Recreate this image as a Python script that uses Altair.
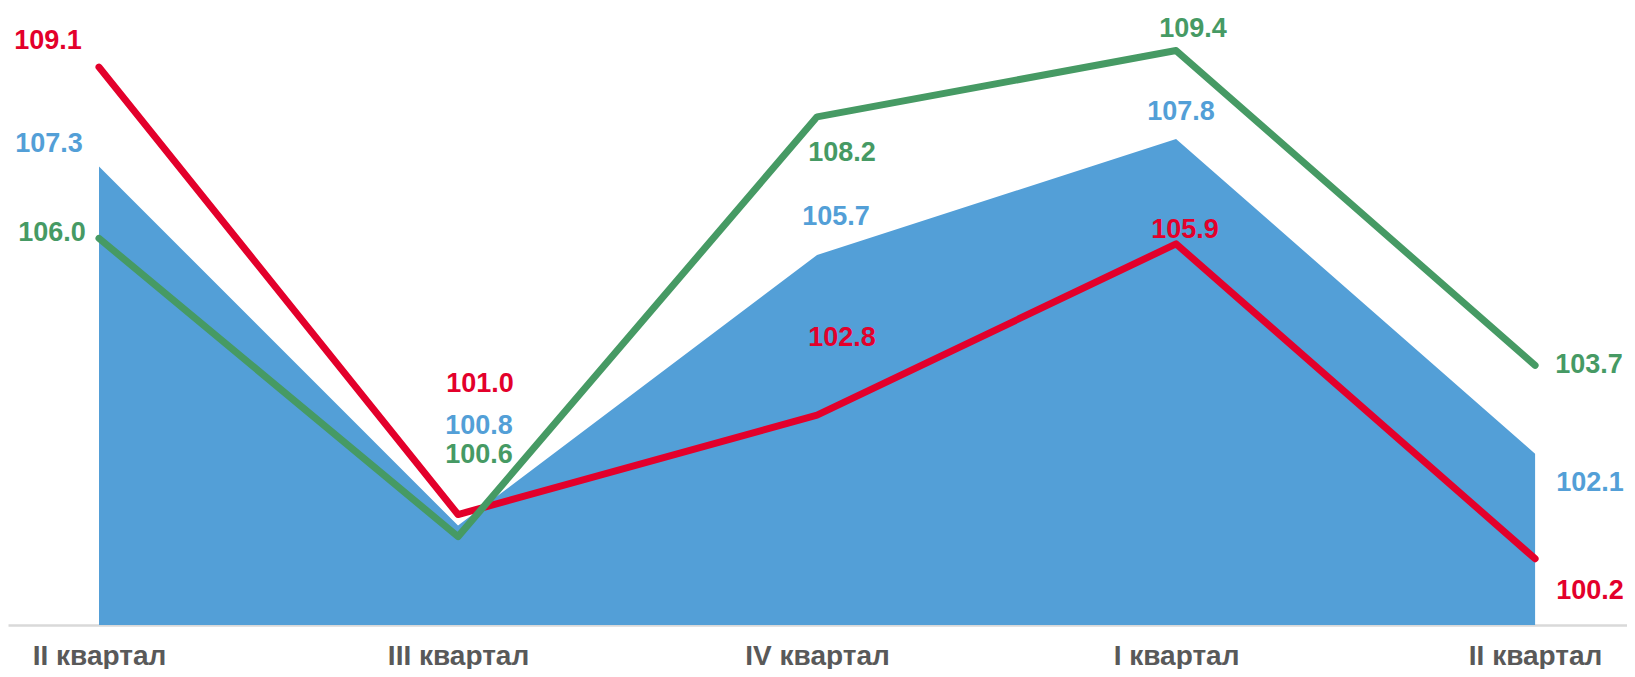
import altair as alt
import pandas as pd

quarters = ["II квартал", "III квартал", "IV квартал", "I квартал", "II квартал"]
blue_vals = [107.3, 100.8, 105.7, 107.8, 102.1]
red_vals = [109.1, 101.0, 102.8, 105.9, 100.2]
green_vals = [106.0, 100.6, 108.2, 109.4, 103.7]

# label placement (pixel offsets from each point), layout only
blue_off = [(-50, -23), (21, -100), (19, -38), (5, -27), (55, 29)]
red_off = [(-51, -26), (22, -131), (25, -77), (9, -14), (55, 32)]
green_off = [(-47, -5), (21, -82), (25, 36), (17, -22), (54, 0)]

BLUE = "#539FD7"
RED = "#E3002B"
GREEN = "#469A64"
FONT = "Liberation Sans, Arial, sans-serif"

W, H = 1619, 617
XDOM = [-0.2535, 4.256]
YDOM = [99, 110.17]
PX_X = W / (XDOM[1] - XDOM[0])
PX_Y = H / (YDOM[1] - YDOM[0])

rows = []
for name, vals, offs in [("blue", blue_vals, blue_off), ("red", red_vals, red_off), ("green", green_vals, green_off)]:
    for i, (v, (dx, dy)) in enumerate(zip(vals, offs)):
        rows.append({"series": name, "i": i, "value": v, "label": f"{v:.1f}", "dx": dx, "dy": dy})
df = pd.DataFrame(rows)

label_expr = "[" + ",".join(f"'{q}'" for q in quarters) + "][datum.value]"

xscale = alt.Scale(domain=XDOM, nice=False, zero=False)
yscale = alt.Scale(domain=YDOM, nice=False, zero=False)
xaxis = alt.Axis(values=[0, 1, 2, 3, 4], labelExpr=label_expr, title=None,
                 grid=False, ticks=False, tickSize=0, labelFont=FONT,
                 labelFontSize=28, labelFontWeight="bold", labelColor="#595959",
                 labelPadding=17, domainColor="#D9D9D9", domainWidth=2.5,
                 labelFlush=False, labelOverlap=False)

x = alt.X("i:Q", scale=xscale, axis=xaxis)
y = alt.Y("value:Q", scale=yscale, axis=None)

base = alt.Chart(df)

area = base.transform_filter(alt.datum.series == "blue").mark_area(
    color=BLUE, opacity=1).encode(x=x, y=y, y2=alt.datum(99))

red_line = base.transform_filter(alt.datum.series == "red").mark_line(
    color=RED, strokeWidth=7, strokeCap="round", strokeJoin="round").encode(x=x, y=y)

green_line = base.transform_filter(alt.datum.series == "green").mark_line(
    color=GREEN, strokeWidth=7, strokeCap="round", strokeJoin="round").encode(x=x, y=y)

labels = base.transform_calculate(
    lx=f"datum.i + datum.dx / {PX_X}",
    ly=f"datum.value - datum.dy / {PX_Y}",
).mark_text(font=FONT, fontSize=27, fontWeight="bold",
            align="center", baseline="middle").encode(
    x=alt.X("lx:Q", scale=xscale, axis=xaxis),
    y=alt.Y("ly:Q", scale=yscale, axis=None),
    text="label:N",
    color=alt.Color("series:N", scale=alt.Scale(domain=["blue", "red", "green"],
                                                 range=[BLUE, RED, GREEN]), legend=None),
)

chart = alt.layer(area, red_line, green_line, labels).properties(
    width=W, height=H,
    background="white",
    autosize=alt.AutoSizeParams(type="none"),
    padding={"left": 0, "top": 0, "right": 0, "bottom": 44},
).configure_view(stroke=None)

chart.save("out.html", embed_options={"renderer": "svg", "actions": False})
